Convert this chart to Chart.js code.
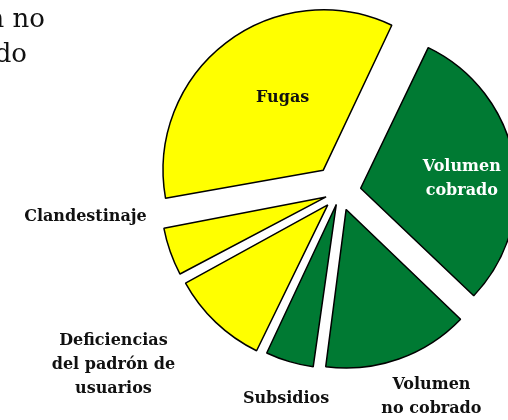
<!DOCTYPE html>
<html>
<head>
<meta charset="utf-8">
<script src="https://cdn.jsdelivr.net/npm/chart.js@4"></script>
<style>
  body { margin: 0; background: #fff; }
  #wrap { width: 508px; height: 420px; position: relative; }
</style>
</head>
<body>
<div id="wrap"><canvas id="pie"></canvas></div>
<script>
// Slices, clockwise from the upper right
const categories = [
    ['Volumen', 'cobrado'],
    ['Volumen', 'no cobrado'],
    ['Subsidios'],
    ['Deficiencias', 'del padrón de', 'usuarios'],
    ['Clandestinaje'],
    ['Fugas']
];
const shares = [30, 15, 5, 10, 5, 35];
const sliceColors = ['#007a33', '#007a33', '#007a33', '#ffff00', '#ffff00', '#ffff00'];
const labelColors = ['#ffffff', '#111111', '#111111', '#111111', '#111111', '#111111'];
// how far each slice is pulled out (Chart.js offset option)
const pullOut = [84, 74, 52, 71, 59, 110];
// label placement: [radius factor, angle shift in degrees from the slice middle]
const labelPlace = [[0.79, 4.4], [1.45, -4.6], [1.38, -2], [1.84, 9], [1.65, 13.8], [0.71, 6]];

const FONT = 'bold 16px "DejaVu Serif", serif';

const labelPlugin = {
    id: 'sliceLabels',
    afterDatasetsDraw(chart) {
        const ctx = chart.ctx;
        const arcs = chart.getDatasetMeta(0).data;
        ctx.save();
        ctx.font = FONT;
        ctx.textAlign = 'center';
        ctx.textBaseline = 'middle';
        arcs.forEach((arc, i) => {
            const mid = (arc.startAngle + arc.endAngle) / 2 + labelPlace[i][1] * Math.PI / 180;
            const r = arc.outerRadius * labelPlace[i][0];
            const x = arc.x + Math.cos(mid) * r;
            const y = arc.y + Math.sin(mid) * r;
            const lines = categories[i];
            const lh = 24;
            ctx.fillStyle = labelColors[i];
            lines.forEach((line, j) => {
                ctx.fillText(line, x, y + (j - (lines.length - 1) / 2) * lh);
            });
        });

        // text of the neighbouring figure, cut off by the left edge
        ctx.font = '26px "DejaVu Serif", serif';
        ctx.fillStyle = '#111111';
        ctx.textAlign = 'right';
        ctx.textBaseline = 'alphabetic';
        ctx.fillText('Volumen no', 45, 27);
        ctx.fillText('facturado', 27, 62);
        ctx.restore();
    }
};

new Chart(document.getElementById('pie'), {
    type: 'pie',
    data: {
        labels: categories.map(c => c.join(' ')),
        datasets: [{
            data: shares,
            backgroundColor: sliceColors,
            borderColor: '#000000',
            borderWidth: 1.5,
            offset: pullOut,
            hoverOffset: 0,
            clip: false
        }]
    },
    options: {
        responsive: true,
        maintainAspectRatio: false,
        animation: false,
        rotation: 25.6,
        radius: 155,
        layout: { padding: { left: 172, right: 0, top: 0, bottom: 36 } },
        plugins: {
            legend: { display: false },
            tooltip: { enabled: false }
        }
    },
    plugins: [labelPlugin]
});
</script>
</body>
</html>
